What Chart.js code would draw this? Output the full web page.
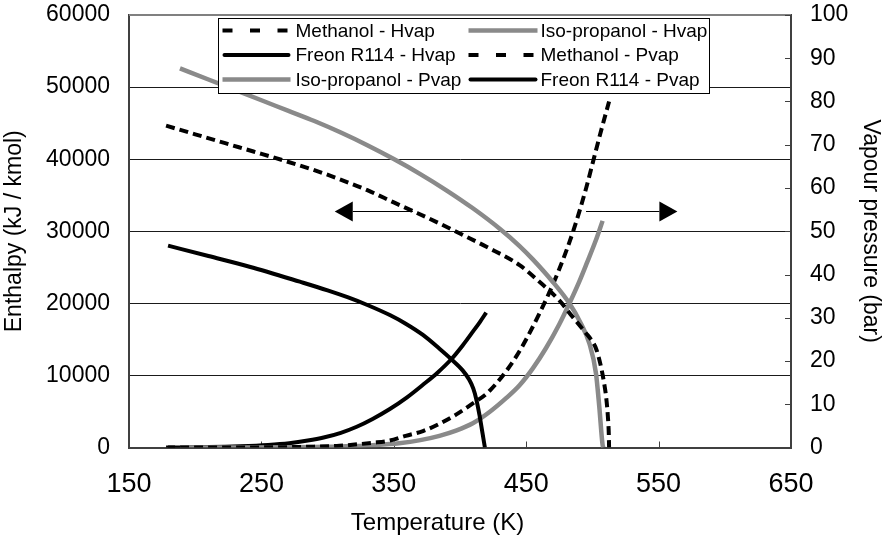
<!DOCTYPE html>
<html>
<head>
<meta charset="utf-8">
<script src="https://cdn.jsdelivr.net/npm/chart.js@4.4.1/dist/chart.umd.min.js"></script>
<style>
  html, body { margin: 0; padding: 0; background: #fff; }
  #wrap { width: 885px; height: 544px; }
</style>
</head>
<body>
<div id="wrap"><canvas id="c" width="885" height="544"></canvas></div>
<script>
// Axis tick values
const tempTicks = [150, 250, 350, 450, 550, 650];
const enthalpyTicks = [0, 10000, 20000, 30000, 40000, 50000, 60000];
const pressureTicks = [0, 10, 20, 30, 40, 50, 60, 70, 80, 90, 100];

// Methanol: heat of vaporisation (kJ/kmol) and vapour pressure (bar) vs temperature (K)
const methanolHvapT = [178, 200, 222, 244, 266, 288, 309, 330, 350, 368, 384.5, 402, 420, 445, 460, 475, 485, 495, 500, 503, 506, 508.5, 510.5, 511.8, 512.4, 512.6];
const methanolHvap  = [44650, 43450, 42250, 41060, 39860, 38600, 37220, 35700, 34000, 32500, 31080, 29500, 27840, 25300, 22990, 20400, 18130, 15900, 14700, 13600, 11600, 9300, 6800, 4000, 1800, 0];
const methanolPvapT = [178, 220, 260, 290, 309, 334, 347, 359, 372, 384.5, 397, 409.7, 422, 442.4, 460, 474, 485.8, 495.2, 501, 506, 512.6];
const methanolPvap  = [0, 0.01, 0.05, 0.2, 0.4, 1.1, 1.6, 2.7, 3.8, 5.5, 7.6, 10.2, 13.0, 21.0, 31.0, 40.5, 50.3, 59.9, 66.7, 72.6, 80.0];

// Iso-propanol
const ipaHvapT = [188.5, 210, 230, 250, 270, 290, 310, 330, 350, 370, 390, 410, 430, 445, 455, 470, 482.6, 491, 497.7, 502.7, 505.2, 507.7, 508.3];
const ipaHvap  = [52600, 51050, 49610, 48170, 46730, 45290, 43690, 41930, 40010, 37930, 35650, 33150, 30350, 27950, 26100, 23000, 20000, 17300, 14450, 10290, 5660, 350, 0];
const ipaPvapT = [188.5, 230, 270, 300, 320, 334, 354, 370, 384.5, 397, 409.7, 422.3, 434.8, 445, 455, 465, 475, 482.6, 490, 496, 502.6, 507.7];
const ipaPvap  = [0, 0.01, 0.05, 0.15, 0.35, 0.55, 1.0, 1.7, 2.7, 3.9, 5.6, 8.2, 11.4, 14.4, 18.3, 23.0, 28.5, 33.3, 38.3, 42.8, 47.9, 52.4];

// Freon R114
const r114HvapT = [179.5, 210, 241, 279, 300, 315, 330, 347, 359, 372, 384.5, 393.4, 402, 407, 410, 412.2, 414.7, 417, 418.8];
const r114Hvap  = [28000, 26560, 25080, 23000, 21800, 20850, 19770, 18370, 17170, 15610, 13700, 12250, 10700, 9400, 8200, 6770, 4520, 1990, 0];
const r114PvapT = [179.5, 210, 234, 255, 271, 285, 297, 310, 322, 334, 347, 360, 372, 383, 393.4, 402, 410, 415, 419.8];
const r114Pvap  = [0, 0.1, 0.3, 0.6, 1.0, 1.6, 2.3, 3.4, 4.8, 6.6, 8.9, 11.6, 14.5, 17.3, 20.4, 23.6, 26.9, 29.0, 31.2];

// Direction arrows: [from T, to T, enthalpy level]
const leftArrow  = [364.4, 305.4, 32750];
const rightArrow = [495.2, 564.2, 32750];

const FONT = "'Liberation Sans', Arial, sans-serif";
const GREY = '#8a8a8a';

const pts = (xs, ys) => xs.map((x, i) => ({ x, y: ys[i] }));

function series(label, xs, ys, axis, color, width, dash) {
  return {
    label, data: pts(xs, ys), yAxisID: axis,
    showLine: true, fill: false, pointRadius: 0, pointHoverRadius: 0,
    borderColor: color, backgroundColor: color, borderWidth: width,
    borderDash: dash || [], borderCapStyle: 'butt', borderJoinStyle: 'round',
    cubicInterpolationMode: 'monotone'
  };
}

const datasets = [
  series('Methanol - Hvap', methanolHvapT, methanolHvap, 'y', '#000', 4, [9, 5]),
  series('Iso-propanol - Hvap', ipaHvapT, ipaHvap, 'y', GREY, 4.5),
  series('Freon R114 - Hvap', r114HvapT, r114Hvap, 'y', '#000', 4),
  series('Methanol - Pvap', methanolPvapT, methanolPvap, 'y2', '#000', 4, [9, 5]),
  series('Iso-propanol - Pvap', ipaPvapT, ipaPvap, 'y2', GREY, 4.5),
  series('Freon R114 - Pvap', r114PvapT, r114Pvap, 'y2', '#000', 4)
];

// Frame top edge, inward tick marks and the temperature axis title
const frame = {
  id: 'frame',
  beforeDatasetsDraw(chart) {
    const { ctx, chartArea: a, scales } = chart;
    ctx.save();
    ctx.strokeStyle = '#808080';
    ctx.lineWidth = 2;
    ctx.beginPath();
    ctx.moveTo(a.left, a.top);
    ctx.lineTo(a.right, a.top);
    ctx.stroke();

    ctx.strokeStyle = '#404040';
    ctx.lineWidth = 1;
    scales.x.ticks.forEach(t => {
      const px = Math.round(scales.x.getPixelForValue(t.value)) + 0.5;
      ctx.beginPath();
      ctx.moveTo(px, a.bottom);
      ctx.lineTo(px, a.bottom - 6);
      ctx.stroke();
    });
    scales.y2.ticks.forEach(t => {
      const py = Math.round(scales.y2.getPixelForValue(t.value)) + 0.5;
      ctx.beginPath();
      ctx.moveTo(a.right, py);
      ctx.lineTo(a.right - 6, py);
      ctx.stroke();
    });

    ctx.fillStyle = '#000';
    ctx.font = '24px ' + FONT;
    ctx.textAlign = 'center';
    ctx.textBaseline = 'middle';
    ctx.fillText('Temperature (K)', chart.width / 2 - 5, a.bottom + 76);
    ctx.restore();
  }
};

function drawArrow(ctx, xs, ys, spec) {
  const x0 = xs.getPixelForValue(spec[0]);
  const x1 = xs.getPixelForValue(spec[1]);
  const y = Math.round(ys.getPixelForValue(spec[2])) + 0.5;
  const dir = Math.sign(x1 - x0);
  const headLen = 18, headHalf = 10;
  ctx.strokeStyle = '#000';
  ctx.lineWidth = 1;
  ctx.beginPath();
  ctx.moveTo(x0, y);
  ctx.lineTo(x1 - dir * headLen, y);
  ctx.stroke();
  ctx.fillStyle = '#000';
  ctx.beginPath();
  ctx.moveTo(x1, y);
  ctx.lineTo(x1 - dir * headLen, y - headHalf);
  ctx.lineTo(x1 - dir * headLen, y + headHalf);
  ctx.closePath();
  ctx.fill();
}

// Arrows and the boxed two-column key
const overlay = {
  id: 'overlay',
  afterDatasetsDraw(chart) {
    const { ctx, chartArea: a, scales } = chart;
    ctx.save();
    drawArrow(ctx, scales.x, scales.y, leftArrow);
    drawArrow(ctx, scales.x, scales.y, rightArrow);

    const boxL = a.left + 89.5, boxT = a.top + 3.5, boxW = 491, boxH = 75;
    ctx.fillStyle = '#fff';
    ctx.fillRect(boxL, boxT, boxW, boxH);
    ctx.strokeStyle = '#000';
    ctx.lineWidth = 1;
    ctx.strokeRect(boxL, boxT, boxW, boxH);

    const cols = [{ s: 4, e: 72, t: 77 }, { s: 250, e: 319, t: 322 }];
    const rows = [12, 36.5, 61];
    ctx.font = '19px ' + FONT;
    ctx.textBaseline = 'middle';
    ctx.textAlign = 'left';
    chart.data.datasets.forEach((ds, i) => {
      const c = cols[i % 2], r = rows[Math.floor(i / 2)];
      const y = boxT + r;
      ctx.strokeStyle = ds.borderColor;
      ctx.lineWidth = ds.borderWidth;
      const dashed = ds.borderDash && ds.borderDash.length;
      ctx.setLineDash(dashed ? [10, 17.5] : []);
      ctx.lineCap = (!dashed && ds.borderColor === '#000') ? 'round' : 'butt';
      const inset = ctx.lineCap === 'round' ? 2 : 0;
      ctx.beginPath();
      ctx.moveTo(boxL + c.s + inset, y);
      ctx.lineTo(boxL + c.e - inset, y);
      ctx.stroke();
      ctx.setLineDash([]);
      ctx.fillStyle = '#000';
      ctx.fillText(ds.label, boxL + c.t, y + 1);
    });
    ctx.restore();
  }
};

const xTickFont = { family: FONT, size: 27 };
const yTickFont = { family: FONT, size: 23 };
const titleFont = { family: FONT, size: 23 };

new Chart(document.getElementById('c'), {
  type: 'scatter',
  data: { datasets },
  plugins: [frame, overlay],
  options: {
    responsive: false,
    animation: false,
    devicePixelRatio: 1,
    layout: { padding: 0 },
    plugins: { legend: { display: false }, tooltip: { enabled: false } },
    scales: {
      x: {
        type: 'linear', min: 150, max: 650,
        afterBuildTicks: s => { s.ticks = tempTicks.map(v => ({ value: v })); },
        afterFit: s => { s.height = 96.5; s.paddingLeft = 0; s.paddingRight = 0; },
        grid: { display: false, drawTicks: false },
        border: { display: true, color: '#404040', width: 2 },
        ticks: { font: xTickFont, color: '#000', padding: 21, maxRotation: 0, callback: v => String(v) },
        title: { display: false }
      },
      y: {
        type: 'linear', position: 'left', min: 0, max: 60000,
        afterBuildTicks: s => { s.ticks = enthalpyTicks.map(v => ({ value: v })); },
        afterFit: s => { s.width = 129; s.paddingTop = 15; s.paddingBottom = 0; },
        grid: {
          drawTicks: false,
          color: c => (c.tick && (c.tick.value === 0 || c.tick.value === 60000)) ? 'rgba(0,0,0,0)' : '#1a1a1a',
          lineWidth: 1
        },
        border: { display: true, color: '#404040', width: 2 },
        ticks: { font: yTickFont, color: '#000', padding: 19, callback: v => String(v) },
        title: { display: true, text: 'Enthalpy (kJ / kmol)', font: titleFont, color: '#000', padding: { top: 1, bottom: 0 } }
      },
      y2: {
        type: 'linear', position: 'right', min: 0, max: 100,
        afterBuildTicks: s => { s.ticks = pressureTicks.map(v => ({ value: v })); },
        afterFit: s => { s.width = 94; s.paddingTop = 15; s.paddingBottom = 0; },
        grid: { display: false, drawTicks: false },
        border: { display: true, color: '#404040', width: 2 },
        ticks: { font: yTickFont, color: '#000', padding: 19, callback: v => String(v) },
        title: { display: true, text: 'Vapour pressure (bar)', font: titleFont, color: '#000', padding: { top: 1, bottom: 0 } }
      }
    }
  }
});
</script>
</body>
</html>
